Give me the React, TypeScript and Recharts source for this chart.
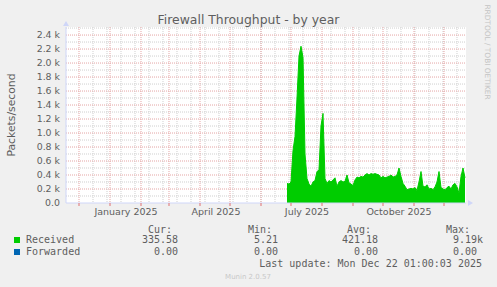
import React from "react";
import { ComposedChart, Area, XAxis, YAxis, CartesianGrid, ReferenceDot } from "recharts";

const DAY = 24 * 3600 * 1000;

// time window of the "by year" graph (400 days)
const rangeStart = Date.parse("2024-11-18");
const rangeEnd = Date.parse("2025-12-23");

// samples every 2 days from this date on
const seriesStart = Date.parse("2025-06-27");
const stepDays = 2;

const received = [
  280, 270, 300, 750, 950, 1500, 2100, 2240, 2080, 700,
  350, 270, 240, 300, 320, 450, 470, 1100, 1280, 350,
  280, 320, 300, 330, 360, 240, 300, 320, 300, 310,
  400, 290, 270, 250, 330, 370, 360, 380, 370, 400,
  420, 400, 420, 410, 420, 410, 400, 360, 380, 360,
  370, 380, 400, 370, 380, 400, 500, 380, 280, 240,
  190, 200, 210, 200, 220, 180, 300, 450, 240, 230,
  260, 200, 210, 190, 230, 300, 450, 220, 200, 190,
  220, 240, 200, 260, 280, 230, 140, 380, 500, 360,
];

const forwarded = [
  0, 0, 0, 0, 0, 0, 0, 0, 0, 0, 0, 0, 0, 0, 0, 0, 0, 0, 0, 0, 0, 0, 0, 0, 0, 0, 0, 0, 0, 0,
  0, 0, 0, 0, 0, 0, 0, 0, 0, 0, 0, 0, 0, 0, 0, 0, 0, 0, 0, 0, 0, 0, 0, 0, 0, 0, 0, 0, 0, 0,
  0, 0, 0, 0, 0, 0, 0, 0, 0, 0, 0, 0, 0, 0, 0, 0, 0, 0, 0, 0, 0, 0, 0, 0, 0, 0, 0, 0, 0, 0,
];

const monthStarts = [
  "2024-12-01", "2025-01-01", "2025-02-01", "2025-03-01", "2025-04-01", "2025-05-01",
  "2025-06-01", "2025-07-01", "2025-08-01", "2025-09-01", "2025-10-01", "2025-11-01", "2025-12-01",
].map((d) => Date.parse(d));

const minorDays = [
  "2024-12-15", "2024-12-29", "2025-01-12", "2025-01-26", "2025-02-09", "2025-02-23",
  "2025-03-09", "2025-03-23", "2025-04-06", "2025-04-20", "2025-05-04", "2025-05-18",
  "2025-06-01", "2025-06-15", "2025-06-29", "2025-07-13", "2025-07-27", "2025-08-10",
  "2025-08-24", "2025-09-07", "2025-09-21", "2025-10-05", "2025-10-19", "2025-11-02",
  "2025-11-16", "2025-11-30", "2025-12-14",
].map((d) => Date.parse(d));

const labelDays = ["2025-01-17", "2025-04-17", "2025-07-17", "2025-10-17"].map((d) => Date.parse(d));
const labelNames = ["January 2025", "April 2025", "July 2025", "October 2025"];

const yMax = 2515;
const yTicks = [0, 200, 400, 600, 800, 1000, 1200, 1400, 1600, 1800, 2000, 2200, 2400];
const yMinor = [100, 300, 500, 700, 900, 1100, 1300, 1500, 1700, 1900, 2100, 2300, 2500];

const legendRows = [
  { name: "Received", color: "#00cc00", cur: "335.58", min: "5.21", avg: "421.18", max: "9.19k" },
  { name: "Forwarded", color: "#0066b3", cur: "0.00", min: "0.00", avg: "0.00", max: "0.00 " },
];

const data = received.map((v, i) => ({
  t: seriesStart + i * stepDays * DAY,
  received: v,
  forwarded: forwarded[i],
}));

const AXIS = "#CFD6F8";
const FONT = "#5e5e5e";
const SANS = "'DejaVu Sans', sans-serif";
const MONO = "'DejaVu Sans Mono', monospace";

const fmtY = (v: number) => (v === 0 ? "0.0" : (v / 1000).toFixed(1) + " k");
const noLabel = () => <g />;

export default function App() {
  return (
    <div style={{ position: "fixed", left: 0, top: 0, width: 497, height: 287, background: "#f0f0f0" }}>
      <ComposedChart width={497} height={287} data={data} margin={{ top: 27, right: 31, bottom: 63, left: 0 }}>
        <CartesianGrid
          fill="#ffffff"
          fillOpacity={1}
          stroke="#cfcfcf"
          strokeDasharray="1 1"
          horizontalValues={yMinor}
          verticalValues={minorDays}
        />
        <CartesianGrid
          stroke="#e5a5a5"
          strokeDasharray="1 1"
          horizontalValues={yTicks.slice(1)}
          verticalValues={monthStarts}
        />
        <XAxis
          dataKey="t"
          type="number"
          domain={[rangeStart, rangeEnd]}
          allowDataOverflow
          ticks={monthStarts}
          interval={0}
          tick={noLabel}
          tickLine={{ stroke: "#e07070" }}
          tickSize={3}
          axisLine={{ stroke: AXIS }}
          height={1}
        />
        <XAxis
          xAxisId="lbl"
          dataKey="t"
          type="number"
          domain={[rangeStart, rangeEnd]}
          allowDataOverflow
          ticks={labelDays}
          interval={0}
          tickFormatter={(v: number) => labelNames[labelDays.indexOf(v)] ?? ""}
          tick={{ fontFamily: SANS, fontSize: 9.5, fill: FONT }}
          tickLine={false}
          axisLine={false}
          tickSize={0}
          tickMargin={4}
          height={20}
        />
        <YAxis
          domain={[0, yMax]}
          allowDataOverflow
          ticks={yTicks}
          interval={0}
          tickFormatter={fmtY}
          tick={{ fontFamily: SANS, fontSize: 9.4, fill: FONT }}
          tickLine={false}
          tickSize={0}
          tickMargin={6}
          axisLine={{ stroke: AXIS }}
          width={66}
        />
        <Area
          dataKey="received"
          type="linear"
          stroke="#00cc00"
          strokeWidth={1}
          fill="#00cc00"
          fillOpacity={1}
          dot={false}
          activeDot={false}
          isAnimationActive={false}
        />
        <Area
          dataKey="forwarded"
          type="linear"
          stroke="none"
          fill="#0066b3"
          fillOpacity={1}
          dot={false}
          activeDot={false}
          isAnimationActive={false}
        />
        <ReferenceDot
          x={rangeStart}
          y={yMax}
          ifOverflow="visible"
          shape={(p: any) => (
            <polygon
              points={`${p.cx - 3},${p.cy - 1} ${p.cx + 3},${p.cy - 1} ${p.cx},${p.cy - 6}`}
              fill={AXIS}
            />
          )}
        />
        <ReferenceDot
          x={rangeEnd}
          y={0}
          ifOverflow="visible"
          shape={(p: any) => (
            <polygon
              points={`${p.cx + 2},${p.cy - 3} ${p.cx + 2},${p.cy + 3} ${p.cx + 7},${p.cy}`}
              fill={AXIS}
            />
          )}
        />
      </ComposedChart>

      <svg width={497} height={287} style={{ position: "absolute", left: 0, top: 0, pointerEvents: "none" }}>
        <text x={248.5} y={24} textAnchor="middle" fontFamily={SANS} fontSize={12.4} fill={FONT}>
          Firewall Throughput - by year
        </text>
        <text
          x={14.5}
          y={115}
          textAnchor="middle"
          transform="rotate(-90 14.5 115)"
          fontFamily={SANS}
          fontSize={10.8}
          fill={FONT}
        >
          Packets/second
        </text>
        <text
          x={485}
          y={52}
          textAnchor="middle"
          transform="rotate(90 485 52)"
          fontFamily={SANS}
          fontSize={7.4}
          fill="#c4c4c4"
        >
          RRDTOOL / TOBI OETIKER
        </text>

        <g fontFamily={MONO} fontSize={10} fill={FONT}>
          <text x={172} y={232.5} textAnchor="end">Cur:</text>
          <text x={272} y={232.5} textAnchor="end">Min:</text>
          <text x={371} y={232.5} textAnchor="end">Avg:</text>
          <text x={470} y={232.5} textAnchor="end">Max:</text>
          {legendRows.map((r, i) => {
            const y = 243 + i * 12;
            return (
              <g key={r.name}>
                <rect x={14} y={y - 6} width={6} height={6} fill={r.color} />
                <text x={26} y={y}>{r.name}</text>
                <text x={178} y={y} textAnchor="end">{r.cur}</text>
                <text x={278} y={y} textAnchor="end">{r.min}</text>
                <text x={378} y={y} textAnchor="end">{r.avg}</text>
                <text x={483} y={y} textAnchor="end" style={{ whiteSpace: "pre" }}>{r.max}</text>
              </g>
            );
          })}
          <text x={482} y={267} textAnchor="end">Last update: Mon Dec 22 01:00:03 2025</text>
        </g>
        <text x={248} y={279} textAnchor="middle" fontFamily={SANS} fontSize={7} fill="#c8c8c8">
          Munin 2.0.57
        </text>
      </svg>
    </div>
  );
}
